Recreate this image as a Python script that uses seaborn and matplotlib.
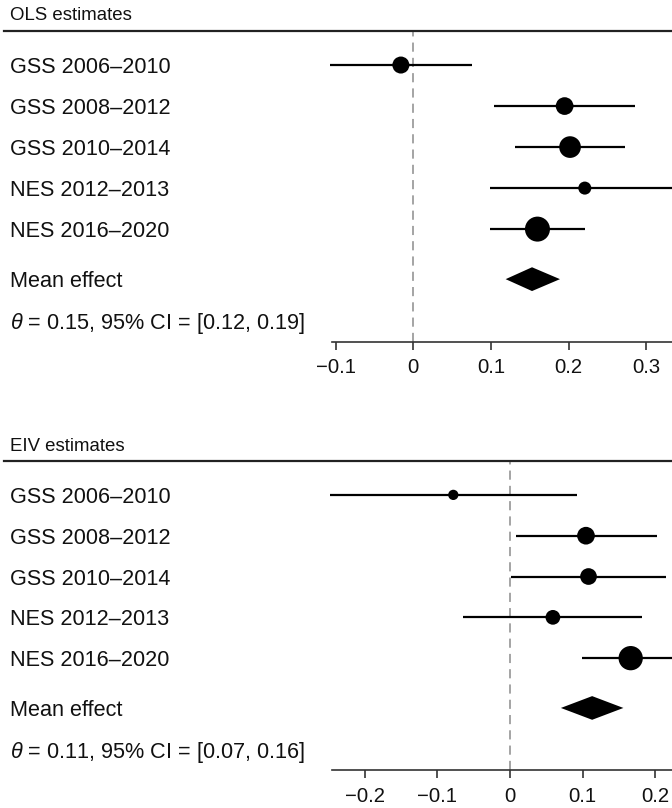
import numpy as np
import pandas as pd
import matplotlib
matplotlib.use("Agg")
import matplotlib.pyplot as plt
import seaborn as sns

# ---------------- data ----------------
studies = ["GSS 2006–2010", "GSS 2008–2012", "GSS 2010–2014",
           "NES 2012–2013", "NES 2016–2020"]

ols_est = [-0.016, 0.195, 0.202, 0.221, 0.160]
ols_lo = [-0.107, 0.104, 0.131, 0.099, 0.099]
ols_hi = [0.075, 0.286, 0.273, 0.345, 0.221]
ols_weight = [15.5, 16.8, 25.2, 9.1, 33.5]
ols_mean = [0.153, 0.119, 0.189]          # estimate, lower, upper
ols_text = "$\\theta$ = 0.15, 95% CI = [0.12, 0.19]"

eiv_est = [-0.078, 0.1045, 0.108, 0.059, 0.166]
eiv_lo = [-0.247, 0.008, 0.001, -0.064, 0.099]
eiv_hi = [0.092, 0.202, 0.215, 0.181, 0.233]
eiv_weight = [7.0, 20.8, 18.5, 14.4, 39.2]
eiv_mean = [0.113, 0.070, 0.156]
eiv_text = "$\\theta$ = 0.11, 95% CI = [0.07, 0.16]"

ols_ticks = [-0.1, 0, 0.1, 0.2, 0.3]
ols_ticklabels = ["−0.1", "0", "0.1", "0.2", "0.3"]
eiv_ticks = [-0.2, -0.1, 0, 0.1, 0.2]
eiv_ticklabels = ["−0.2", "−0.1", "0", "0.1", "0.2"]

# ---------------- style ----------------
sns.set_style("white")
plt.rcParams["font.family"] = ["Liberation Sans", "DejaVu Sans"]
plt.rcParams["mathtext.fontset"] = "custom"
plt.rcParams["mathtext.it"] = "Liberation Sans:italic"
plt.rcParams["mathtext.rm"] = "Liberation Sans"

W, H = 672, 808
fig = plt.figure(figsize=(W / 100, H / 100), dpi=100)

LABEL_FS = 15.6
TITLE_FS = 13.4
TICK_FS = 14.6
row_y = [1, 2, 3, 4, 5]
mean_y = 6.22
text_y = 7.22
ylim = (7.74, 0.17)


def panel(top_px, bot_px, title, est, lo, hi, wt, mean, mtext, xlim,
          axis_start, ticks, ticklabels, smax):
    ax = fig.add_axes([0, 1 - bot_px / H, 1, (bot_px - top_px) / H])
    df = pd.DataFrame({"study": studies, "est": est, "lo": lo, "hi": hi,
                       "w": wt, "y": row_y})
    ax.axvline(0, color="#8c8c8c", lw=1.1, ls=(0, (6, 4)), zorder=1)
    ax.hlines(df["y"], df["lo"], df["hi"], color="black", lw=1.6, zorder=2)
    sns.scatterplot(data=df, x="est", y="y", size="w", sizes=(0, smax),
                    size_norm=(0, max(wt)), color="black", linewidth=0,
                    legend=False, ax=ax, zorder=3)
    m, mlo, mhi = mean
    hh = 0.29
    ax.fill([mlo, m, mhi, m], [mean_y, mean_y - hh, mean_y, mean_y + hh],
            color="black", lw=0, zorder=3)
    ax.set_xlim(*xlim)
    ax.set_ylim(*ylim)
    ax.set_xlabel("")
    ax.set_ylabel("")
    ax.set_yticks([])
    ax.set_xticks(ticks)
    ax.set_xticklabels(ticklabels, fontsize=TICK_FS, color="#111111")
    ax.tick_params(axis="x", direction="out", length=6, width=1.2,
                   pad=6, color="#333333", bottom=True)
    for s in ["left", "right"]:
        ax.spines[s].set_visible(False)
    span = xlim[1] - xlim[0]
    ax.spines["top"].set_bounds(xlim[0] + 4 / W * span, xlim[1])
    ax.spines["top"].set_linewidth(1.6)
    ax.spines["top"].set_color("#222222")
    ax.spines["bottom"].set_bounds(axis_start, xlim[1])
    ax.spines["bottom"].set_linewidth(1.2)
    ax.spines["bottom"].set_color("#333333")
    tr = ax.get_yaxis_transform()
    for yy, lab in zip(row_y, studies):
        ax.text(10 / W, yy, lab, transform=tr, fontsize=LABEL_FS,
                va="center_baseline", ha="left", color="#111111")
    ax.text(10 / W, mean_y, "Mean effect", transform=tr, fontsize=LABEL_FS,
            va="center_baseline", ha="left", color="#111111")
    ax.text(10 / W, text_y, mtext, transform=tr, fontsize=LABEL_FS,
            va="center_baseline", ha="left", color="#111111")
    fig.text(10 / W, 1 - (top_px - 17) / H, title, fontsize=TITLE_FS,
             va="center_baseline", ha="left", color="#111111")
    return ax


panel(31, 341.5, "OLS estimates", ols_est, ols_lo, ols_hi, ols_weight,
      ols_mean, ols_text, ((0 - 413.3) / 776, (672 - 413.3) / 776), -0.105,
      ols_ticks, ols_ticklabels, smax=(25 * 0.72) ** 2)
panel(461, 770, "EIV estimates", eiv_est, eiv_lo, eiv_hi, eiv_weight,
      eiv_mean, eiv_text, ((0 - 510) / 727, (672 - 510) / 727), -0.245,
      eiv_ticks, eiv_ticklabels, smax=(24.3 * 0.72) ** 2)

fig.savefig("out.png", dpi=100)
